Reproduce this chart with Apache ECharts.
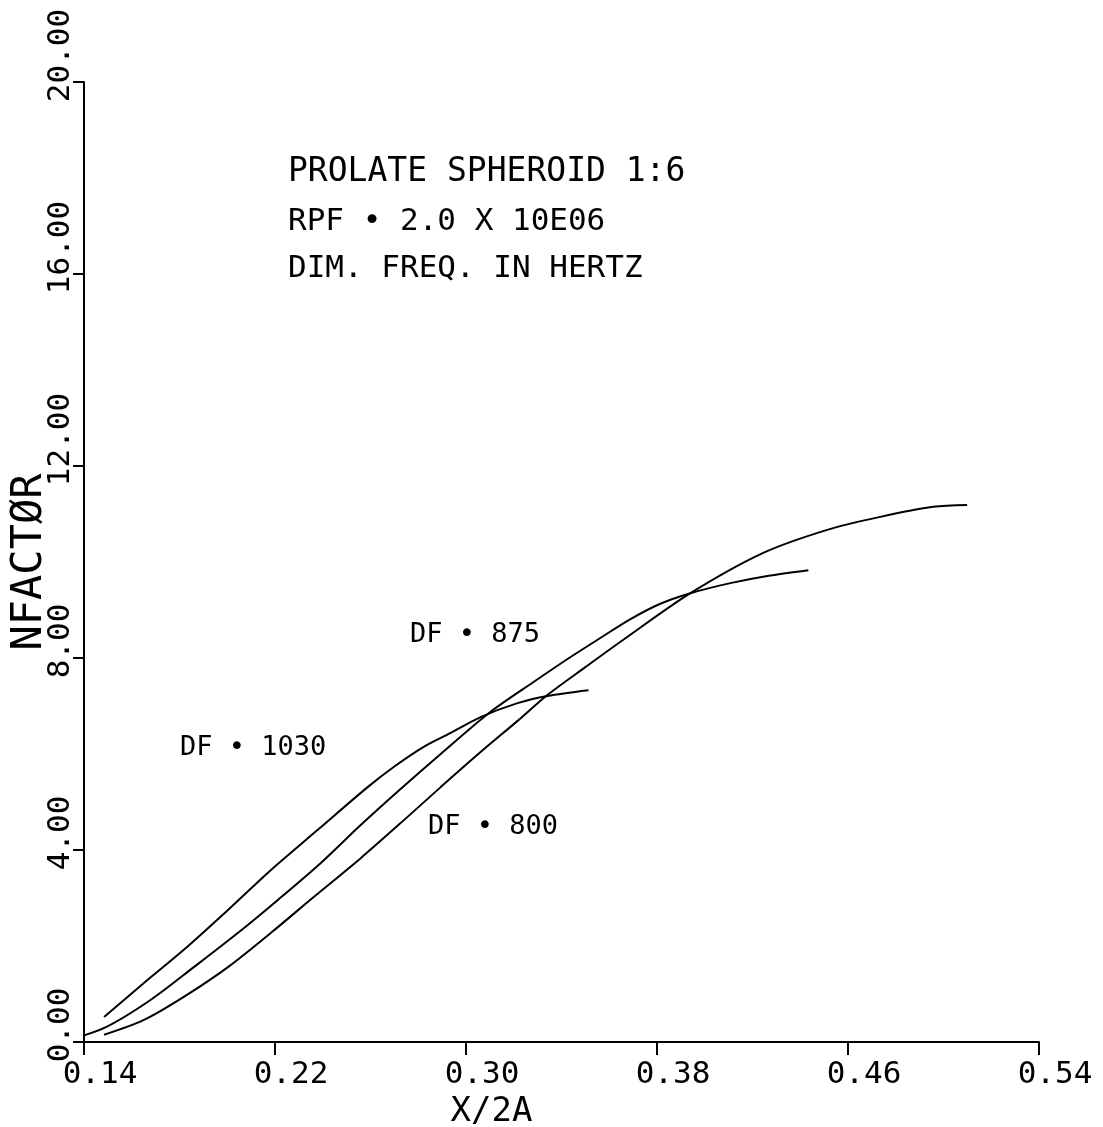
<!DOCTYPE html>
<html>
    <head>
        <title>Prolate spheroid 1:6 - NFACTOR</title>
        <meta charset="UTF-8">
        <script src="https://cdn.jsdelivr.net/npm/echarts@6/dist/echarts.min.js"></script>
        <style>
            body {
                margin: 0;
                background-color: #fff;
            }
            #main {
                width: 1103px;
                height: 1127px;
            }
        </style>
    </head>
    <body>
        <div id="main"></div>
        <script>
            // x/2a positions and n-factor values, one pair of arrays per curve
            var df1030X = [0.1484, 0.1651, 0.1818, 0.2003, 0.2182, 0.2379, 0.2588, 0.2697, 0.2823, 0.2936, 0.3061, 0.3216, 0.3341, 0.3513];
            var df1030Y = [0.52, 1.23, 1.92, 2.75, 3.58, 4.42, 5.31, 5.73, 6.15, 6.44, 6.77, 7.06, 7.21, 7.33];

            var df875X = [0.1335, 0.1492, 0.1680, 0.1860, 0.2044, 0.2212, 0.2392, 0.2559, 0.2726, 0.2894, 0.3103, 0.3283, 0.3438, 0.3551, 0.3689, 0.3814, 0.3940, 0.4107, 0.4262, 0.4434];
            var df875Y = [0.04, 0.31, 0.88, 1.56, 2.27, 2.96, 3.73, 4.52, 5.27, 6.00, 6.88, 7.50, 8.02, 8.38, 8.81, 9.13, 9.35, 9.56, 9.71, 9.83];

            var df800X = [0.1484, 0.1651, 0.1818, 0.2003, 0.2182, 0.2362, 0.2559, 0.2726, 0.2894, 0.3061, 0.3216, 0.3341, 0.3500, 0.3659, 0.3940, 0.4245, 0.4513, 0.4735, 0.4957, 0.5099];
            var df800Y = [0.15, 0.46, 0.94, 1.56, 2.27, 3.02, 3.83, 4.56, 5.31, 6.04, 6.69, 7.23, 7.81, 8.38, 9.35, 10.19, 10.67, 10.94, 11.15, 11.19];

            var xTicks = [0.14, 0.22, 0.30, 0.38, 0.46, 0.54];
            var yTicks = [0, 4, 8, 12, 16, 20];

            var notes = ['PROLATE SPHEROID 1:6', 'RPF \u2022 2.0 X 10E06', 'DIM. FREQ. IN HERTZ'];
            var curveNames = ['DF \u2022 1030', 'DF \u2022 875', 'DF \u2022 800'];

            function pairs(xs, ys) {
                var out = [];
                for (var i = 0; i < xs.length; i++) {
                    out.push([xs[i], ys[i]]);
                }
                return out;
            }

            var mono = 'DejaVu Sans Mono';
            var lineStyle = {color: '#000', width: 2};

            function curve(name, xs, ys) {
                return {
                    name: name,
                    type: 'line',
                    data: pairs(xs, ys),
                    smooth: 0.3,
                    symbol: 'none',
                    clip: false,
                    lineStyle: lineStyle
                };
            }

            function note(text, left, top, size) {
                return {
                    type: 'text',
                    left: left,
                    top: top,
                    style: {text: text, font: size + 'px "' + mono + '"', fill: '#000'}
                };
            }

            var chart = echarts.init(document.getElementById('main'));
            var option = {
                animation: false,
                backgroundColor: '#fff',
                grid: {left: 84, right: 64, top: 82, bottom: 85, containLabel: false, outerBoundsMode: 'none'},
                xAxis: {
                    type: 'value',
                    min: xTicks[0],
                    max: xTicks[xTicks.length - 1],
                    interval: 0.08,
                    name: 'X/2A',
                    nameLocation: 'middle',
                    nameGap: 52,
                    nameTextStyle: {fontFamily: mono, fontSize: 34, color: '#000', padding: [0, 140, 0, 0]},
                    axisLine: {lineStyle: lineStyle},
                    axisTick: {length: 13, lineStyle: lineStyle},
                    splitLine: {show: false},
                    axisLabel: {
                        margin: 17,
                        fontFamily: mono,
                        fontSize: 31,
                        color: '#000',
                        padding: [0, 0, 0, 32],
                        formatter: function (v) { return v.toFixed(2); }
                    }
                },
                yAxis: {
                    type: 'value',
                    min: yTicks[0],
                    max: yTicks[yTicks.length - 1],
                    interval: 4,
                    name: 'NFACT\u00d8R',
                    nameLocation: 'middle',
                    nameRotate: 90,
                    nameGap: 33,
                    nameMoveOverlap: false,
                    nameTextStyle: {fontFamily: mono, fontSize: 42, color: '#000'},
                    axisLine: {show: true, lineStyle: lineStyle},
                    axisTick: {show: true, length: 11, lineStyle: lineStyle},
                    splitLine: {show: false},
                    axisLabel: {
                        rotate: 90,
                        margin: 8,
                        color: '#000',
                        formatter: function (v) {
                            var s = v.toFixed(2);
                            return (s.length > 4 ? '{b|' : '{a|') + s + '}';
                        },
                        rich: {
                            a: {fontFamily: mono, fontSize: 31, color: '#000', padding: [0, 0, 0, 34]},
                            b: {fontFamily: mono, fontSize: 31, color: '#000', padding: [0, 0, 0, 53]}
                        }
                    }
                },
                graphic: [
                    note(notes[0], 288, 156, 33),
                    note(notes[1], 288, 206, 31),
                    note(notes[2], 288, 253, 31),
                    note(curveNames[0], 180, 734, 27),
                    note(curveNames[1], 410, 621, 27),
                    note(curveNames[2], 428, 813, 27)
                ],
                series: [
                    curve(curveNames[0], df1030X, df1030Y),
                    curve(curveNames[1], df875X, df875Y),
                    curve(curveNames[2], df800X, df800Y)
                ]
            };
            chart.setOption(option);
        </script>
    </body>
</html>
